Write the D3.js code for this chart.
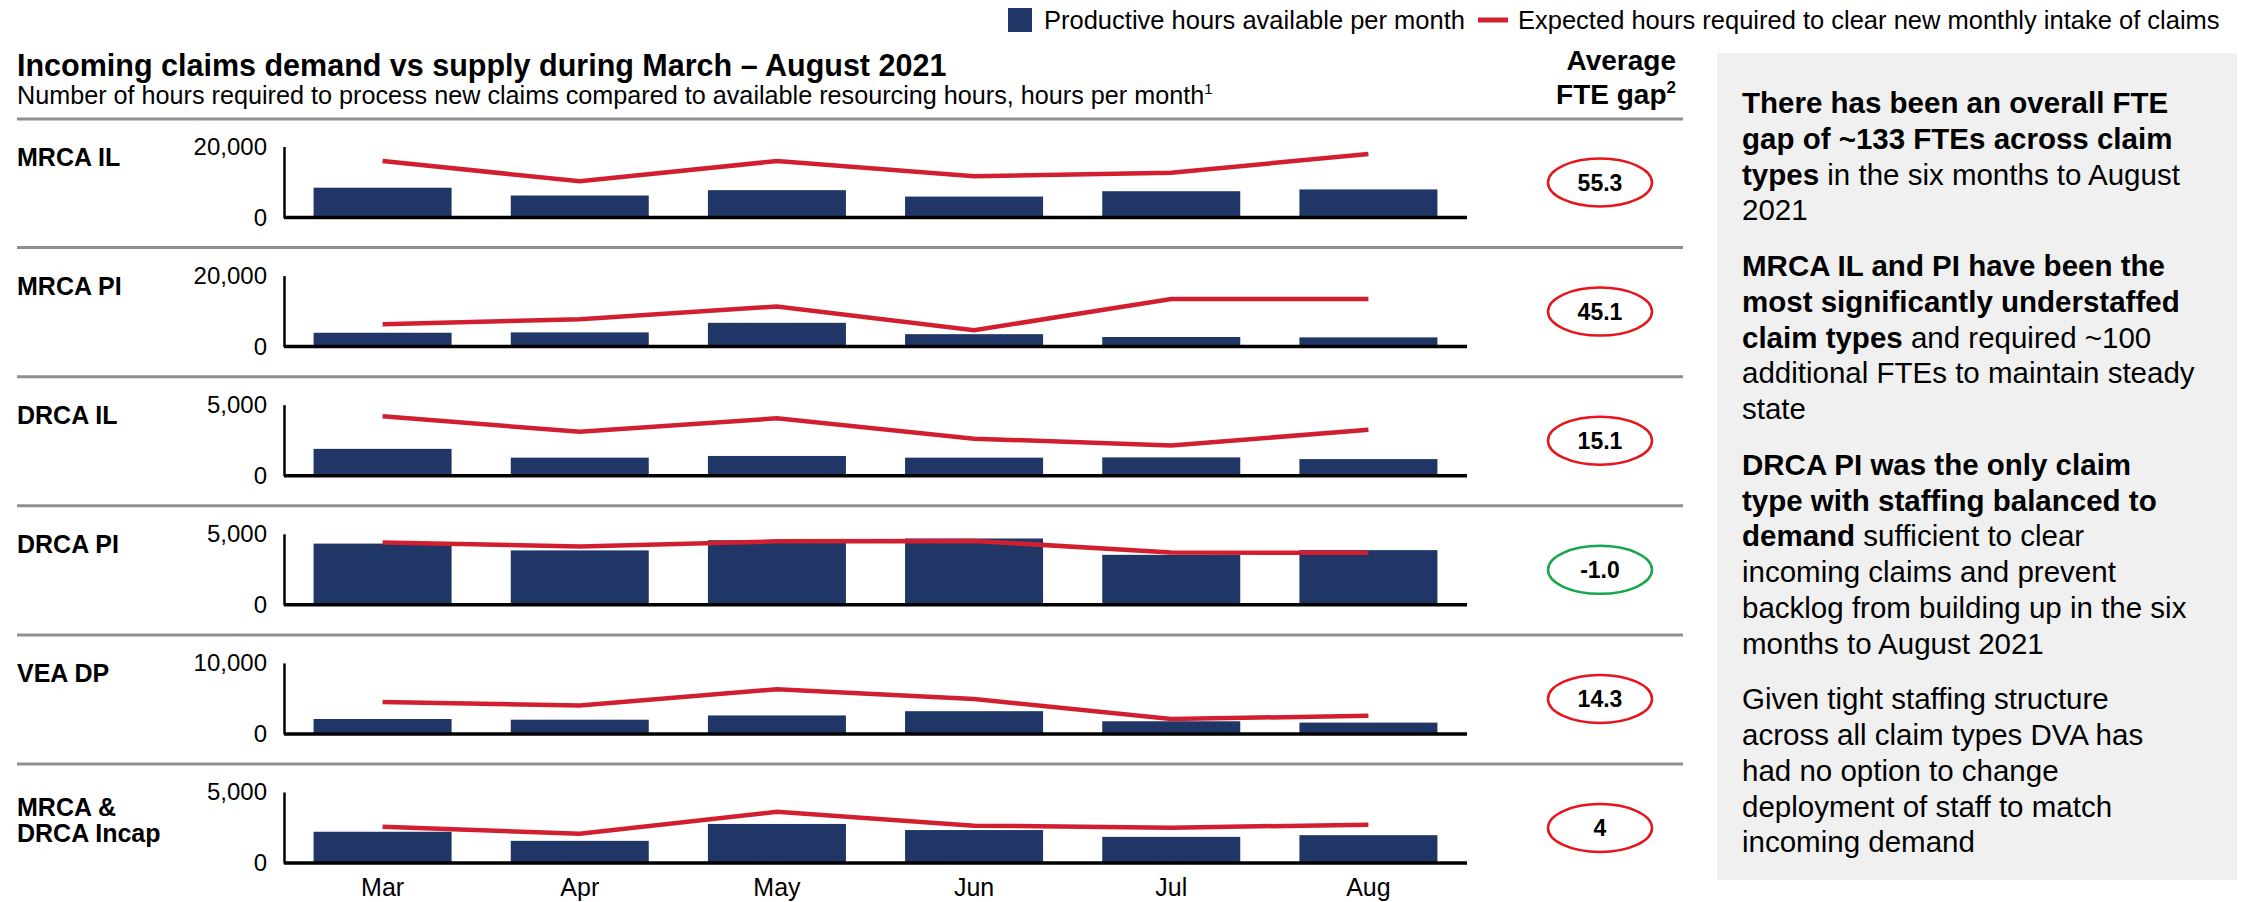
<!DOCTYPE html>
<html><head><meta charset="utf-8">
<script src="https://cdn.jsdelivr.net/npm/d3@7"></script>
<style>
html,body{margin:0;padding:0;background:#fff;}
svg{display:block;font-family:"Liberation Sans",Arial,sans-serif;}
</style></head>
<body>
<svg id="chart" width="2242" height="902"></svg>
<script>
// ---------- data ----------
const months = ["Mar","Apr","May","Jun","Jul","Aug"];
const claimTypes = ["MRCA IL","MRCA PI","DRCA IL","DRCA PI","VEA DP","MRCA & DRCA Incap"];
const claimLabelLines = [["MRCA IL"],["MRCA PI"],["DRCA IL"],["DRCA PI"],["VEA DP"],["MRCA &","DRCA Incap"]];
const axisMax = [20000, 20000, 5000, 5000, 10000, 5000];
const axisTickLabels = [["0","20,000"],["0","20,000"],["0","5,000"],["0","5,000"],["0","10,000"],["0","5,000"]];
// Productive hours available per month (bars)
const productiveMRCAIL = [8400, 6200, 7700, 5900, 7400, 7900];
const productiveMRCAPI = [3900, 4000, 6700, 3500, 2700, 2600];
const productiveDRCAIL = [1890, 1270, 1390, 1270, 1290, 1170];
const productiveDRCAPI = [4310, 3830, 4550, 4670, 3520, 3850];
const productiveVEADP  = [2100, 2000, 2600, 3200, 1780, 1590];
const productiveIncap  = [2200, 1560, 2750, 2320, 1840, 1960];
// Expected hours required to clear new monthly intake (line)
const expectedMRCAIL = [15900, 10200, 15900, 11600, 12600, 17900];
const expectedMRCAPI = [6300, 7700, 11300, 4600, 13400, 13400];
const expectedDRCAIL = [4190, 3090, 4040, 2610, 2130, 3230];
const expectedDRCAPI = [4380, 4110, 4470, 4500, 3680, 3660];
const expectedVEADP  = [4500, 4000, 6300, 4900, 2100, 2550];
const expectedIncap  = [2560, 2060, 3610, 2630, 2490, 2700];
const fteGap = ["55.3","45.1","15.1","-1.0","14.3","4"];
const fteGapPositive = [true, true, true, false, true, true];

const productive = [productiveMRCAIL, productiveMRCAPI, productiveDRCAIL, productiveDRCAPI, productiveVEADP, productiveIncap];
const expected = [expectedMRCAIL, expectedMRCAPI, expectedDRCAIL, expectedDRCAPI, expectedVEADP, expectedIncap];

const legendLabels = ["Productive hours available per month","Expected hours required to clear new monthly intake of claims"];
const titleText = "Incoming claims demand vs supply during March – August 2021";
const subtitleText = "Number of hours required to process new claims compared to available resourcing hours, hours per month";

// commentary paragraphs: each line = list of [text, bold]
const commentary = [
  [[["There has been an overall FTE",true]],
   [["gap of ~133 FTEs across claim",true]],
   [["types",true],[" in the six months to August",false]],
   [["2021",false]]],
  [[["MRCA IL and PI have been the",true]],
   [["most significantly understaffed",true]],
   [["claim types",true],[" and required ~100",false]],
   [["additional FTEs to maintain steady",false]],
   [["state",false]]],
  [[["DRCA PI was the only claim",true]],
   [["type with staffing balanced to",true]],
   [["demand",true],[" sufficient to clear",false]],
   [["incoming claims and prevent",false]],
   [["backlog from building up in the six",false]],
   [["months to August 2021",false]]],
  [[["Given tight staffing structure",false]],
   [["across all claim types DVA has",false]],
   [["had no option to change",false]],
   [["deployment of staff to match",false]],
   [["incoming demand",false]]]
];

// ---------- drawing ----------
const NAVY = "#1f3666", RED = "#d21f2f", OVAL_RED = "#e8141b", OVAL_GREEN = "#18a64a", SEP = "#8f8f8f";
const svg = d3.select("#chart");

// legend
svg.append("rect").attr("x",1008).attr("y",8).attr("width",24).attr("height",24).attr("fill",NAVY);
svg.append("text").attr("x",1044).attr("y",29).attr("font-size",25.5).attr("fill","#000").text(legendLabels[0]);
svg.append("line").attr("x1",1478).attr("x2",1508).attr("y1",20).attr("y2",20).attr("stroke",RED).attr("stroke-width",5);
svg.append("text").attr("x",1518).attr("y",29).attr("font-size",25.5).attr("fill","#000").text(legendLabels[1]);

// title
svg.append("text").attr("x",17).attr("y",76).attr("font-size",30.5).attr("font-weight","bold").text(titleText);
const sub = svg.append("text").attr("x",17).attr("y",104).attr("font-size",25.2);
sub.append("tspan").text(subtitleText);
sub.append("tspan").attr("font-size",15).attr("dy",-10).text("1");

// Average FTE gap header
svg.append("text").attr("x",1676).attr("y",70).attr("text-anchor","end").attr("font-size",28).attr("font-weight","bold").text("Average");
const fh = svg.append("text").attr("x",1676).attr("y",104).attr("text-anchor","end").attr("font-size",28).attr("font-weight","bold");
fh.append("tspan").text("FTE gap");
fh.append("tspan").attr("font-size",17).attr("dy",-11).text("2");

// title underline
svg.append("line").attr("x1",17).attr("x2",1683).attr("y1",119).attr("y2",119).attr("stroke",SEP).attr("stroke-width",3);

const x = d3.scaleBand().domain(months).range([284,1467]).paddingInner(0.3).paddingOuter(0.15);
const panelStep = 129.1, panelTop0 = 118.5;

claimTypes.forEach((ct, i) => {
  const y0 = panelTop0 + i*panelStep;
  const y = d3.scaleLinear().domain([0, axisMax[i]]).range([y0+99, y0+28]);
  const g = svg.append("g");
  if (i > 0) {
    g.append("line").attr("x1",17).attr("x2",1683).attr("y1",y0).attr("y2",y0).attr("stroke",SEP).attr("stroke-width",3);
  }
  // row label
  const lines = claimLabelLines[i];
  const lab = g.append("text").attr("font-size",25).attr("font-weight","bold");
  lines.forEach((l, k) => {
    const by = lines.length === 1 ? y0+47 : y0+52+k*26;
    lab.append("tspan").attr("x",17).attr("y",by).text(l);
  });
  // bars
  g.selectAll("rect.bar").data(productive[i]).enter().append("rect")
    .attr("class","bar")
    .attr("x",(d,k)=>x(months[k]))
    .attr("width",x.bandwidth())
    .attr("y",d=>y(d))
    .attr("height",d=>y(0)-y(d))
    .attr("fill",NAVY);
  // y axis
  const yAxis = d3.axisLeft(y).tickValues([0, axisMax[i]]).tickSize(0).tickPadding(17)
    .tickFormat((d,k)=>axisTickLabels[i][k]);
  const ya = g.append("g").attr("transform",`translate(${x.range()[0]},0)`).call(yAxis);
  ya.select(".domain").attr("stroke","#000").attr("stroke-width",2.5);
  ya.selectAll("text").attr("font-size",24).attr("fill","#000").attr("font-family","Liberation Sans, Arial, sans-serif");
  // x baseline
  const xAxis = d3.axisBottom(x).tickSize(0).tickFormat(i === claimTypes.length-1 ? (d=>d) : (()=>"")).tickPadding(15);
  const xa = g.append("g").attr("transform",`translate(0,${y(0)})`).call(xAxis);
  xa.select(".domain").attr("stroke","#000").attr("stroke-width",3.5).attr("d",`M${x.range()[0]},0H${x.range()[1]}`);
  xa.selectAll("text").attr("font-size",25).attr("fill","#000").attr("font-family","Liberation Sans, Arial, sans-serif");
  // line
  const line = d3.line().x((d,k)=>x(months[k])+x.bandwidth()/2).y(d=>y(d));
  g.append("path").datum(expected[i]).attr("d",line).attr("fill","none")
    .attr("stroke",RED).attr("stroke-width",4.5).attr("stroke-linejoin","miter");
  // oval
  const cy = y0 + 64;
  g.append("ellipse").attr("cx",1600).attr("cy",cy).attr("rx",52).attr("ry",24)
    .attr("fill","#fff").attr("stroke",fteGapPositive[i] ? OVAL_RED : OVAL_GREEN).attr("stroke-width",2.5);
  g.append("text").attr("x",1600).attr("y",cy+8).attr("text-anchor","middle")
    .attr("font-size",23).attr("font-weight","bold").text(fteGap[i]);
});

// commentary box
svg.append("rect").attr("x",1717).attr("y",53).attr("width",520).attr("height",827).attr("fill","#f0f0f0");
let by = 113;
const lineStep = 35.75, paraGap = 20;
commentary.forEach((para, p) => {
  para.forEach(ln => {
    const t = svg.append("text").attr("x",1742).attr("y",by).attr("font-size",29.5).attr("fill","#000");
    ln.forEach(([s,b]) => t.append("tspan").attr("font-weight", b ? "bold" : "normal").text(s));
    by += lineStep;
  });
  by += paraGap;
});
</script>
</body></html>
